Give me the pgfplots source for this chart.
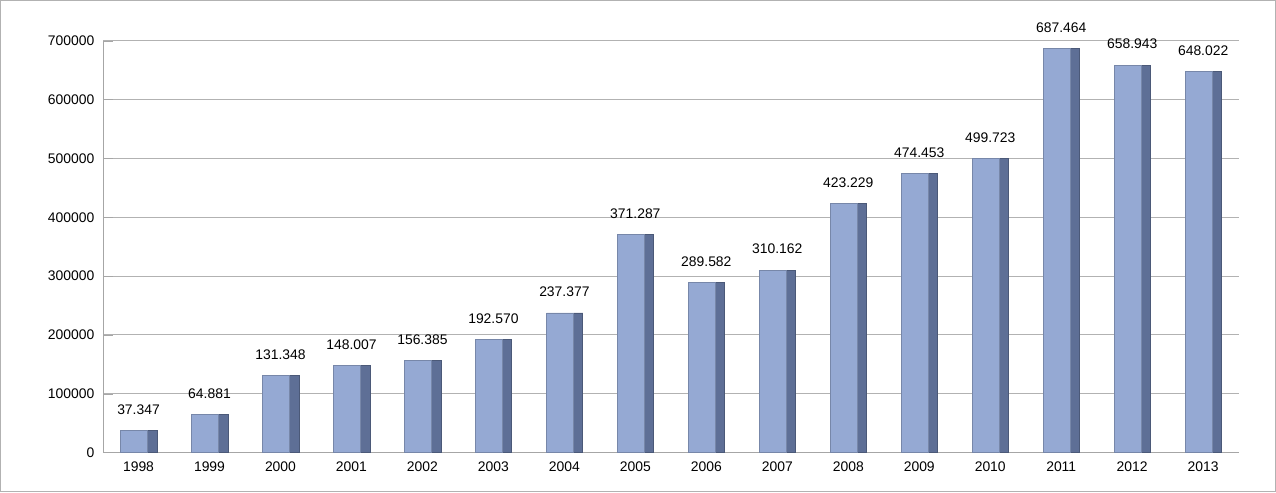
\documentclass[border=0pt]{standalone}
\usepackage{pgfplots}
\pgfplotsset{compat=1.18}
\usepackage{fontspec}
\setmainfont{Liberation Sans}
\definecolor{front}{HTML}{95A9D3}
\definecolor{side}{HTML}{5E6F96}
\newcommand\sm{\fontsize{5.6}{6.5}\selectfont}
\begin{document}
\begin{tikzpicture}
\draw[gray!60, line width=0.5pt] (-1.45cm,-0.55cm) rectangle (16.6cm,6.4cm);
\begin{axis}[
  scale only axis, width=16.08cm, height=5.83cm,
  xmin=-0.5, xmax=15.5, ymin=0, ymax=700000,
  axis line style={gray!70}, axis x line*=bottom, axis y line*=left,
  ytick={0,100000,...,700000},
  scaled y ticks=false,
  yticklabel style={/pgf/number format/fixed,/pgf/number format/1000 sep={}, font=\sm},
  /pgf/number format/assume math mode=true,
  xtick=data,
  xticklabels={1998,1999,2000,2001,2002,2003,2004,2005,2006,2007,2008,2009,2010,2011,2012,2013},
  xticklabel style={font=\sm},
  major tick length=4pt, tick style={gray!70},
  ymajorgrids, grid style={gray!60},
  clip=false,
]
\addplot[ybar, bar width=0.13, bar shift=0.195, fill=side, draw=side!80!black, line width=0.3pt] coordinates {
(0,37347)(1,64881)(2,131348)(3,148007)(4,156385)(5,192570)(6,237377)(7,371287)(8,289582)(9,310162)(10,423229)(11,474453)(12,499723)(13,687464)(14,658943)(15,648022)};
\addplot[ybar, bar width=0.38, bar shift=-0.06, fill=front, draw=front!80!black, line width=0.3pt,
  nodes near coords, point meta=explicit symbolic,
  every node near coord/.append style={font=\sm, yshift=3pt}] table[meta=l] {
x y l
0 37347 37.347
1 64881 64.881
2 131348 131.348
3 148007 148.007
4 156385 156.385
5 192570 192.570
6 237377 237.377
7 371287 371.287
8 289582 289.582
9 310162 310.162
10 423229 423.229
11 474453 474.453
12 499723 499.723
13 687464 687.464
14 658943 658.943
15 648022 648.022
};
\end{axis}
\end{tikzpicture}
\end{document}
